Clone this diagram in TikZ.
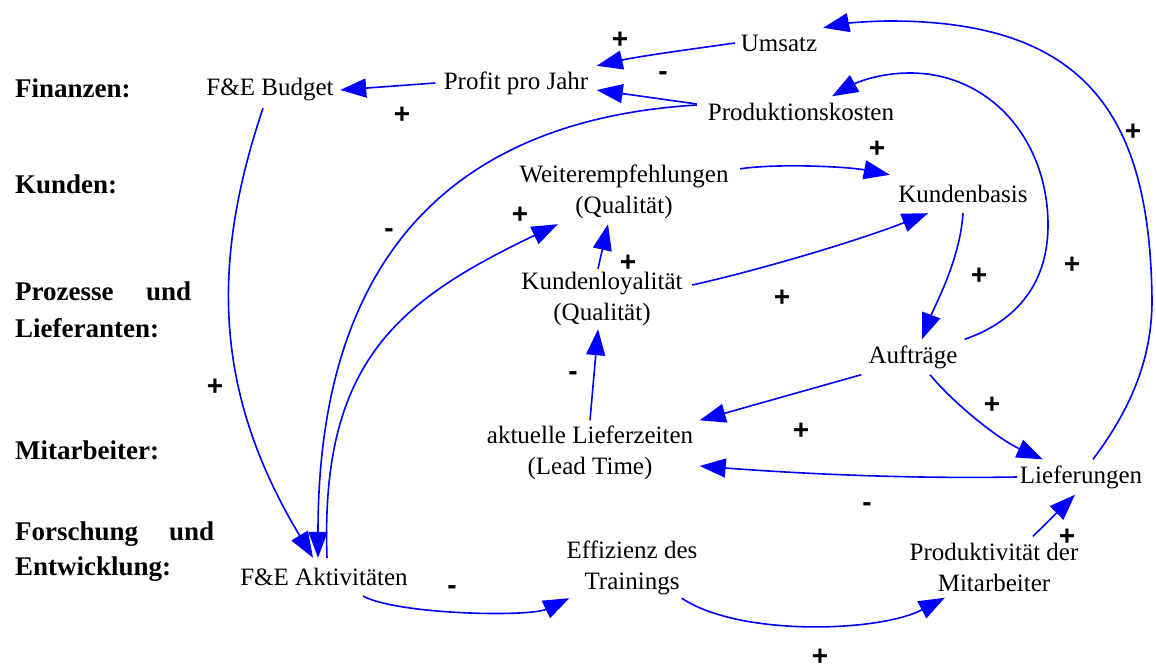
\documentclass[tikz,border=0pt]{standalone}
\usepackage{fontspec}
\setmainfont{Liberation Serif}
\newfontfamily\signfont{Liberation Sans}
\usetikzlibrary{arrows.meta,calc}
\definecolor{linkblue}{RGB}{0,0,255}
\begin{document}
\begin{tikzpicture}[x=1pt,y=-1pt,
  var/.style={inner sep=0pt, align=center, font=\fontsize{25}{31}\selectfont},
  cat/.style={anchor=base west, inner sep=0pt, font=\fontsize{27}{30}\selectfont\bfseries},
  sgn/.style={inner sep=0pt, font=\fontsize{28}{28}\selectfont\signfont\bfseries},
  link/.style={draw=linkblue, line width=1.6pt, -{Triangle[length=26pt,width=19pt]}},
]
\useasboundingbox (0,0) rectangle (1156,669);

% perspective labels on the left
\node[cat] (pfin) at (15,97) {Finanzen:};
\node[cat] (pkun) at (15,193) {Kunden:};
\node[cat] (pproa) at (15,300) {\hbox to 176pt{Prozesse\hfill und}};
\node[cat] (pprob) at (15,337) {Lieferanten:};
\node[cat] (pmit) at (15,459) {Mitarbeiter:};
\node[cat] (pfora) at (15,540) {\hbox to 199pt{Forschung\hfill und}};
\node[cat] (pforb) at (15,575) {Entwicklung:};

% variables
\node[var, minimum width=88pt,  minimum height=30pt] (umsatz)  at (779,43)  {Umsatz};
\node[var, minimum width=161pt, minimum height=34pt] (profit)  at (516,83)  {Profit pro Jahr};
\node[var, minimum width=140pt, minimum height=36pt] (budget)  at (270,90)  {F\&E Budget};
\node[var, minimum width=208pt, minimum height=31pt] (prodk)   at (801,112) {Produktionskosten};
\node[var, minimum width=232pt, minimum height=64pt] (weiter)  at (624,192) {Weiterempfehlungen\\(Qualität)};
\node[var, minimum width=146pt, minimum height=38pt] (kundenb) at (963,194) {Kundenbasis};
\node[var, minimum width=180pt, minimum height=60pt] (loyal)   at (602,299) {Kundenloyalität\\(Qualität)};
\node[var, minimum width=103pt, minimum height=35pt] (auftr)   at (913,357) {Aufträge};
\node[var, minimum width=219pt, minimum height=65pt] (lead)    at (590,453) {aktuelle Lieferzeiten\\(Lead Time)};
\node[var, minimum width=128pt, minimum height=35pt] (liefer)  at (1081,477) {Lieferungen};
\node[var, minimum width=176pt, minimum height=38pt] (fea)     at (324,577) {F\&E Aktivitäten};
\node[var, minimum width=135pt, minimum height=60pt] (eff)     at (632,568) {Effizienz des\\Trainings};
\node[var, minimum width=182pt, minimum height=61pt] (prod)    at (994,567) {Produktivität der\\Mitarbeiter};

% causal links
\draw[link] (umsatz.west) .. controls (700,48) and (640,56) .. (profit.north east);
\draw[link] ([yshift=8pt]prodk.west) -- ([yshift=-7pt]profit.east);
\draw[link] (profit.west) -- (budget.east);
\draw[link] ([xshift=-7pt]budget.south) .. controls (212,260) and (212,390) .. ([xshift=-11pt]fea.north);
\draw[link] ([yshift=7pt]prodk.west) .. controls (450,120) and (318,260) .. ([xshift=-6pt]fea.north);
\draw[link] ([xshift=3pt]fea.north) .. controls (320,360) and (400,300) .. ([xshift=50pt]weiter.south west);
\draw[link] ([xshift=-4pt]loyal.north) -- ([xshift=-16pt]weiter.south);
\draw[link] ([yshift=-9pt]weiter.north east) .. controls (780,163) and (850,167) .. (kundenb.north west);
\draw[link] ([yshift=14pt]loyal.east) .. controls (760,270) and (860,240) .. ([xshift=-35pt]kundenb.south);
\draw[link] (kundenb.south) .. controls (960,260) and (935,305) .. ([xshift=9pt]auftr.north);
\draw[link] (auftr.north east) .. controls (1020,320) and (1048,280) .. (1048,225)
  .. controls (1048,140) and (990,73) .. (910,73)
  .. controls (875,73) and (852,85) .. ([xshift=31pt]prodk.north);
\draw[link] ([xshift=12pt]liefer.north) .. controls (1130,410) and (1152,360) .. (1152,300)
  .. controls (1150,120) and (1090,21) .. (890,21)
  .. controls (865,21) and (842,24) .. (umsatz.north east);
\draw[link] ([xshift=17pt]auftr.south) .. controls (955,405) and (1000,440) .. ([xshift=26pt]liefer.north west);
\draw[link] (auftr.south west) -- (lead.north east);
\draw[link] (liefer.west) .. controls (900,479) and (790,473) .. ([yshift=-13pt]lead.east);
\draw[link] (lead.north) -- ([xshift=-4pt]loyal.south);
\draw[link] ([xshift=39pt]fea.south) .. controls (400,615) and (530,617) .. ([xshift=5pt]eff.south west);
\draw[link] ([xshift=-18pt]eff.south east) .. controls (740,637) and (880,632) .. ([xshift=42pt]prod.south west);
\draw[link] ([xshift=39pt]prod.north) -- ([xshift=-6pt]liefer.south);

% polarity signs
\node[sgn] (s1)  at (620,40)  {+};
\node[sgn] (s2)  at (663,76)  {-};
\node[sgn] (s3)  at (402,115) {+};
\node[sgn] (s4)  at (215,387) {+};
\node[sgn] (s5)  at (389,233) {-};
\node[sgn] (s6)  at (520,215) {+};
\node[sgn] (s7)  at (628,263) {+};
\node[sgn] (s8)  at (877,149) {+};
\node[sgn] (s9)  at (782,298) {+};
\node[sgn] (s10) at (979,276) {+};
\node[sgn] (s11) at (1072,265) {+};
\node[sgn] (s12) at (1133,132) {+};
\node[sgn] (s13) at (992,405) {+};
\node[sgn] (s14) at (801,431) {+};
\node[sgn] (s15) at (867,507) {-};
\node[sgn] (s16) at (573,376) {-};
\node[sgn] (s17) at (452,590) {-};
\node[sgn] (s18) at (820,657) {+};
\node[sgn] (s19) at (1067,537) {+};
\end{tikzpicture}
\end{document}
